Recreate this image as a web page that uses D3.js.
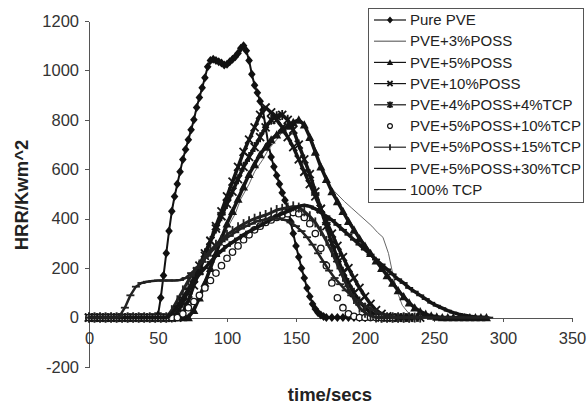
<!DOCTYPE html>
<html>
<head>
<meta charset="utf-8">
<script src="https://d3js.org/d3.v7.min.js"></script>
<style>
    body { margin: 0; background: #fff; }
    svg { display: block; font-family: "Liberation Sans", Arial, sans-serif; }
    .axis path, .axis line { stroke: #555; shape-rendering: crispEdges; }
    .axis text { fill: #333; font-size: 16.5px; }
    .title { fill: #222; font-size: 18.5px; font-weight: bold; }
    .legend text { fill: #222; font-size: 15px; }
</style>
</head>
<body>
<div class="chart"></div>
<script>

//////////
// DATA //
//////////

// [time (s), HRR (kW/m^2)]
var pvePure = [[0,0],[4,0],[8,0],[12,0],[16,0],[20,0],[24,0],[28,0],[32,0],[36,0],[40,0],[44,0],[48,0],
    [50,10],[52,80],[54,170],[56,260],[58,350],[60,430],[62,490],[64,540],[66,590],[68,640],[70,680],
    [72,720],[74,760],[76,800],[78,850],[80,890],[82,930],[84,970],[86,1015],[88,1040],[90,1045],
    [92,1040],[94,1035],[96,1030],[98,1022],[100,1025],[102,1035],[104,1045],[106,1055],[108,1070],
    [110,1090],[112,1100],[114,1080],[116,1040],[118,985],[120,940],[122,910],[124,875],[126,840],
    [128,770],[130,700],[132,650],[134,610],[136,575],[138,540],[140,505],[142,475],[144,440],
    [146,390],[148,340],[150,290],[152,245],[154,200],[156,160],[158,120],[160,85],[162,55],[164,35],
    [166,20],[168,10],[170,4],[172,0],[176,0],[180,0],[184,0],[188,0],[192,0],[196,0],[200,0]];

var poss3 = [[0,0],[70,0],[76,40],[82,120],[90,230],[100,360],[106,420],[110,480],[116,540],[120,590],
    [126,640],[130,680],[136,720],[140,750],[144,770],[148,800],[153,790],[158,760],[163,700],[168,610],
    [172,550],[178,510],[185,470],[190,445],[195,420],[200,395],[205,370],[209,345],[213,325],[217,260],
    [220,180],[223,110],[227,50],[232,15],[240,0],[250,0]];

var poss5 = [[0,0],[4,0],[8,0],[12,0],[16,0],[20,0],[24,0],[28,0],[32,0],[36,0],[40,0],[44,0],[48,0],
    [52,0],[56,0],[60,0],[64,0],[68,0],[72,0],[76,30],[80,80],[84,140],[88,200],[92,260],[96,320],
    [100,380],[104,430],[108,480],[112,530],[116,580],[120,620],[124,660],[128,690],[132,720],[136,740],
    [140,760],[144,775],[148,790],[152,800],[156,780],[160,730],[164,670],[168,610],[172,560],[176,510],
    [180,470],[184,430],[188,390],[192,355],[196,320],[200,290],[204,260],[208,230],[212,200],[216,170],
    [220,140],[224,110],[228,85],[232,60],[236,40],[240,25],[244,14],[248,7],[252,3],[256,0],[260,0],
    [264,0],[268,0],[272,0],[276,0],[280,0],[284,0],[288,0]];

var poss10 = [[0,0],[4,0],[8,0],[12,0],[16,0],[20,0],[24,0],[28,0],[32,0],[36,0],[40,0],[44,0],[48,0],
    [52,0],[56,0],[60,0],[64,0],[68,20],[72,70],[76,130],[80,190],[84,250],[88,310],[92,370],[96,430],
    [100,490],[104,550],[108,610],[112,670],[116,720],[120,770],[124,820],[128,850],[132,830],[136,800],
    [140,770],[144,730],[148,690],[152,640],[156,590],[160,540],[164,490],[168,440],[172,390],[176,340],
    [180,290],[184,245],[188,200],[192,160],[196,120],[200,85],[204,55],[208,30],[212,15],[216,5],
    [220,0],[224,0],[228,0],[232,0],[236,0],[240,0]];

var poss4tcp4 = [[0,0],[4,0],[8,0],[12,0],[16,0],[20,0],[24,0],[28,0],[32,0],[36,0],[40,0],[44,0],[48,0],
    [52,0],[56,0],[60,0],[64,20],[68,60],[72,110],[76,160],[80,210],[84,260],[88,310],[92,360],[96,410],
    [100,460],[104,510],[108,560],[112,610],[116,650],[120,690],[124,730],[128,770],[132,800],[136,815],
    [140,820],[144,800],[148,760],[152,700],[156,640],[160,580],[164,510],[168,440],[172,370],[176,300],
    [180,240],[184,185],[188,140],[192,100],[196,65],[200,40],[204,20],[208,8],[212,0],[216,0],[220,0],
    [224,0],[228,0],[232,0]];

var tcp10 = [[0,0],[4,0],[8,0],[12,0],[16,0],[20,0],[24,0],[28,0],[32,0],[36,0],[40,0],[44,0],[48,0],
    [52,0],[56,0],[60,0],[64,0],[68,15],[72,40],[76,65],[80,90],[84,120],[88,150],[92,180],[96,210],
    [100,240],[104,265],[108,290],[112,315],[116,335],[120,355],[124,370],[128,385],[132,395],[136,405],
    [140,415],[144,420],[148,425],[152,420],[156,405],[160,380],[164,340],[168,280],[172,210],[176,140],
    [180,80],[184,40],[188,15],[192,5],[196,0],[200,0],[204,0],[208,0],[212,0],[216,0],[220,0]];

var tcp15 = [[0,0],[4,0],[8,0],[12,0],[16,0],[20,0],[24,0],[28,0],[32,0],[36,0],[40,0],[44,0],[48,0],
    [52,0],[56,0],[60,30],[64,70],[68,110],[72,150],[76,185],[80,215],[84,245],[88,270],[92,295],[96,315],
    [100,335],[104,350],[108,365],[112,378],[116,390],[120,400],[124,408],[128,415],[132,425],[136,435],
    [140,440],[144,445],[148,450],[152,445],[156,430],[160,410],[164,385],[168,350],[172,310],[176,265],
    [180,215],[184,165],[188,115],[192,75],[196,40],[200,20],[204,8],[208,0],[212,0],[216,0],[220,0],
    [224,0],[228,0],[232,0],[236,0],[240,0]];

var tcp30 = [[0,0],[4,0],[8,0],[12,0],[16,0],[20,0],[24,0],[28,0],[32,0],[36,0],[40,0],[44,0],[48,0],
    [52,0],[56,0],[60,15],[64,45],[68,80],[72,115],[76,145],[80,175],[84,200],[88,225],[92,250],[96,270],
    [100,290],[104,305],[108,320],[112,335],[116,348],[120,360],[124,372],[128,385],[132,397],[136,410],
    [140,420],[144,430],[148,440],[152,450],[156,455],[160,450],[164,440],[168,425],[172,410],[176,395],
    [180,375],[184,355],[188,335],[192,315],[196,295],[200,275],[204,255],[208,235],[212,215],[216,195],
    [220,175],[224,155],[228,140],[232,120],[236,105],[240,90],[244,75],[248,60],[252,48],[256,38],
    [260,28],[264,20],[268,14],[272,9],[276,5],[280,2],[284,0],[288,0]];

var tcp100 = [[0,0],[4,0],[8,0],[12,0],[16,0],[20,0],[22,5],[26,40],[30,90],[34,125],[38,140],[42,145],
    [46,148],[50,150],[54,150],[58,150],[62,150],[66,152],[70,160],[74,180],[78,200],[82,225],[86,250],
    [90,275],[94,295],[98,315],[102,330],[106,345],[110,360],[114,370],[118,380],[122,390],[126,395],
    [130,400],[134,402],[138,400],[142,395],[146,385],[150,370],[154,350],[158,325],[162,295],[166,260],
    [170,225],[174,190],[178,160],[182,135],[186,110],[190,90],[194,72],[198,56],[202,42],[206,30],
    [210,20],[214,12],[218,6],[222,2],[226,0],[230,0],[240,0],[250,0],[260,0],[270,0],[280,0],[290,0]];

var seriesNames = ['Pure PVE', 'PVE+3%POSS', 'PVE+5%POSS', 'PVE+10%POSS', 'PVE+4%POSS+4%TCP',
    'PVE+5%POSS+10%TCP', 'PVE+5%POSS+15%TCP', 'PVE+5%POSS+30%TCP', '100% TCP'];
var seriesData = [pvePure, poss3, poss5, poss10, poss4tcp4, tcp10, tcp15, tcp30, tcp100];

var xTicks = [0, 50, 100, 150, 200, 250, 300, 350];
var yTicks = [-200, 0, 200, 400, 600, 800, 1000, 1200];

////////////
// STYLES //
////////////

// line width, line colour, marker shape per series (same order as names)
var seriesStyle = [
    { line: 2, color: '#111', marker: 'diamond' },
    { line: 1, color: '#666', marker: null },
    { line: 3.5, color: '#151515', marker: 'triangle' },
    { line: 3.5, color: '#151515', marker: 'times' },
    { line: 3.5, color: '#151515', marker: 'asterisk' },
    { line: 0, color: '#151515', marker: 'circle' },
    { line: 3, color: '#222', marker: 'tick' },
    { line: 3.5, color: '#151515', marker: 'dash' },
    { line: 2.5, color: '#222', marker: 'dash' }
];

var markerPaths = {
    diamond: 'M0,-4.5L3.8,0L0,4.5L-3.8,0Z',
    triangle: 'M0,-4.5L4.5,3.8L-4.5,3.8Z',
    times: 'M-4,-4L4,4M-4,4L4,-4',
    asterisk: 'M-4,-4L4,4M-4,4L4,-4M0,-5L0,5',
    tick: 'M0,-5L0,5',
    dash: 'M-4,0L4,0'
};

var legendPaths = {
    diamond: 'M0,-3.5L3,0L0,3.5L-3,0Z',
    triangle: 'M0,-3.2L3.2,2.6L-3.2,2.6Z',
    times: 'M-2.6,-2.6L2.6,2.6M-2.6,2.6L2.6,-2.6',
    asterisk: 'M-2.6,-2.6L2.6,2.6M-2.6,2.6L2.6,-2.6M0,-3.2L0,3.2',
    tick: 'M0,-3L0,3'
};

function drawMarker(sel, type, color, paths, r) {
    if (type === 'circle') {
        sel.append('circle').attr('r', r)
            .attr('fill', '#fff').attr('stroke', color).attr('stroke-width', 1.3);
    } else if (type === 'diamond' || type === 'triangle') {
        sel.append('path').attr('d', paths[type]).attr('fill', color);
    } else if (type && paths[type]) {
        sel.append('path').attr('d', paths[type])
            .attr('fill', 'none').attr('stroke', color).attr('stroke-width', 1.8);
    }
}

//////////////////
// CREATING SVG //
//////////////////

var w = 587, h = 404;

var svg = d3.select('.chart')
    .append('svg')
    .attr('width', w)
    .attr('height', h);

////////////
// SCALES //
////////////

var xScale = d3.scaleLinear().domain([0, 350]).range([89, 572]);
var yScale = d3.scaleLinear().domain([-200, 1200]).range([367, 21]);

//////////
// AXIS //
//////////

var plainFormat = function(d) { return String(d); };

svg.append('g')
    .attr('class', 'axis')
    .attr('transform', 'translate(89,0)')
    .call(d3.axisLeft(yScale).tickValues(yTicks).tickFormat(plainFormat)
        .tickSize(4).tickSizeOuter(0).tickPadding(6));

svg.append('g')
    .attr('class', 'axis')
    .attr('transform', 'translate(0,' + yScale(0) + ')')
    .call(d3.axisBottom(xScale).tickValues(xTicks).tickFormat(plainFormat)
        .tickSize(4).tickSizeOuter(0).tickPadding(11));

svg.append('text')
    .attr('class', 'title')
    .attr('text-anchor', 'middle')
    .attr('x', 330).attr('y', 401)
    .text('time/secs');

svg.append('text')
    .attr('class', 'title')
    .attr('text-anchor', 'middle')
    .attr('transform', 'translate(28,195) rotate(-90)')
    .text('HRR/Kwm^2');

////////////
// SERIES //
////////////

var line = d3.line()
    .x(function(d) { return xScale(d[0]); })
    .y(function(d) { return yScale(d[1]); });

seriesData.forEach(function(data, i) {
    var st = seriesStyle[i];
    var g = svg.append('g').attr('class', 'series');

    if (st.line > 0) {
        g.append('path')
            .datum(data)
            .attr('fill', 'none')
            .attr('stroke', st.color)
            .attr('stroke-width', st.line)
            .attr('stroke-linejoin', 'round')
            .attr('d', line);
    }

    if (st.marker) {
        g.selectAll('.pt')
            .data(data)
            .enter()
            .append('g')
            .attr('class', 'pt')
            .attr('transform', function(d) { return 'translate(' + xScale(d[0]) + ',' + yScale(d[1]) + ')'; })
            .each(function() { drawMarker(d3.select(this), st.marker, st.color, markerPaths, 3.2); });
    }
});

////////////
// LEGEND //
////////////

var legend = svg.append('g').attr('class', 'legend');

legend.append('rect')
    .attr('x', 368.5).attr('y', 8.5)
    .attr('width', 215).attr('height', 194)
    .attr('fill', '#fff')
    .attr('stroke', '#555');

var item = legend.selectAll('.item')
    .data(seriesNames)
    .enter()
    .append('g')
    .attr('class', 'item')
    .attr('transform', function(d, i) { return 'translate(0,' + (20 + i * 21.2) + ')'; });

item.each(function(d, i) {
    var st = seriesStyle[i];
    var it = d3.select(this);
    if (st.line > 0) {
        it.append('line')
            .attr('x1', 374).attr('x2', 406)
            .attr('stroke', st.color)
            .attr('stroke-width', 1.2);
    }
    var m = it.append('g').attr('transform', 'translate(390,0)');
    drawMarker(m, st.marker, st.color, legendPaths, 2.4);
    it.append('text')
        .attr('x', 410)
        .attr('dy', '0.35em')
        .text(d);
});

</script>
</body>
</html>
